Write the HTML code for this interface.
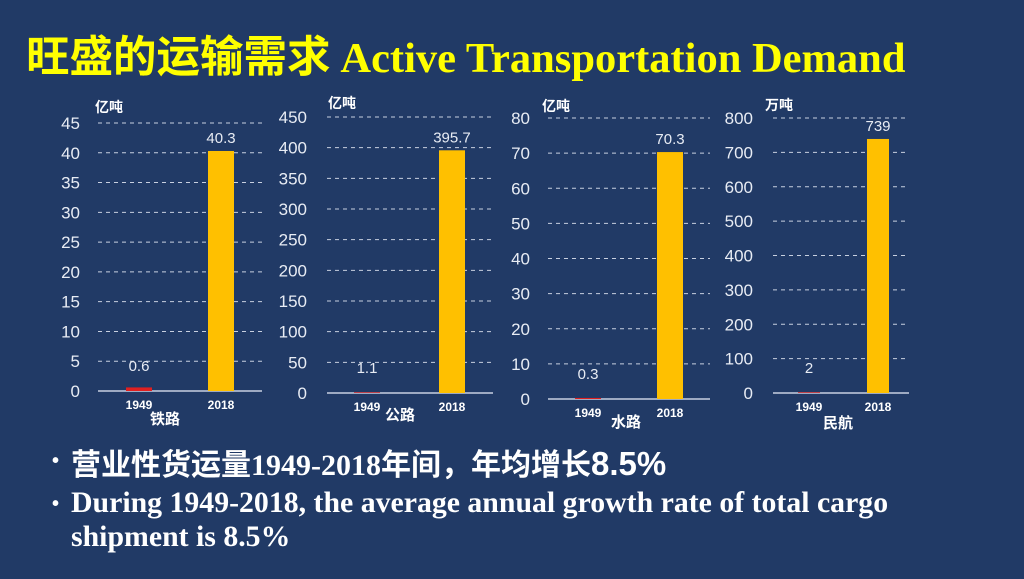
<!DOCTYPE html>
<html><head><meta charset="utf-8"><style>
body{margin:0;width:1024px;height:579px;background:#213a66;overflow:hidden;font-family:"Liberation Sans","Noto Sans CJK SC",sans-serif;position:relative}
#title{position:absolute;left:26px;top:26px;color:#ffff00;font-weight:bold;white-space:nowrap;line-height:56px}
#title .cn{font-family:"Noto Sans CJK SC",sans-serif;font-size:43.5px}
#title .en{font-family:"Liberation Serif",serif;font-size:42.5px}
.b{position:absolute;color:#fff;font-weight:bold;font-family:"Liberation Serif","Noto Sans CJK SC",serif;white-space:nowrap}
.dot{position:absolute;color:#fff;font-size:20px;font-weight:bold}
svg{position:absolute;left:0;top:0}
</style></head><body>
<div id="title"><span class="cn">旺盛的运输需求 </span><span class="en">Active Transportation Demand</span></div>
<div class="dot" style="left:52px;top:450px">•</div>
<div class="b" style="left:71px;top:440px;font-size:30px"><span style="font-family:'Noto Sans CJK SC'">营业性货运量</span>1949-2018<span style="font-family:'Noto Sans CJK SC'">年间，年均增长</span><span style="font-family:'Liberation Sans';font-size:33px">8.5%</span></div>
<div class="dot" style="left:52px;top:493px">•</div>
<div class="b" style="left:71px;top:486px;font-size:29.8px;line-height:34px">During 1949-2018, the average annual growth rate of total cargo<br>shipment is 8.5%</div>
<svg id="c" width="1024" height="579"></svg>
<script>
const categories=["1949","2018"];
const railValues=[0.6,40.3];
const roadValues=[1.1,395.7];
const waterValues=[0.3,70.3];
const airValues=[2,739];
const railTicks=[0,5,10,15,20,25,30,35,40,45];
const roadTicks=[0,50,100,150,200,250,300,350,400,450];
const waterTicks=[0,10,20,30,40,50,60,70,80];
const airTicks=[0,100,200,300,400,500,600,700,800];
const labels=["铁路","公路","水路","民航"];
const units=["亿吨","亿吨","亿吨","万吨"];
const charts=[
 {v:railValues,t:railTicks,lbl:["0.6","40.3"],x0:98,x1:262,y0:391,yt:123,bars:[126,208],bw:26,lx:80,ux:95,uy:112,name:"rail",lab:[165,424],red:true},
 {v:roadValues,t:roadTicks,lbl:["1.1","395.7"],x0:327,x1:493,y0:393,yt:117,bars:[354,439],bw:26,lx:307,ux:328,uy:108,name:"road",lab:[400,420]},
 {v:waterValues,t:waterTicks,lbl:["0.3","70.3"],x0:548,x1:710,y0:399,yt:118,bars:[575,657],bw:26,lx:530,ux:542,uy:111,name:"water",lab:[626,427]},
 {v:airValues,t:airTicks,lbl:["2","739"],x0:773,x1:909,y0:393,yt:118,bars:[798,867],bw:22,lx:753,ux:765,uy:110,name:"air",lab:[838,428]}
];
const svg=document.getElementById('c');const NS="http://www.w3.org/2000/svg";
function mk(tag,a,txt){const e=document.createElementNS(NS,tag);for(const k in a)e.setAttribute(k,a[k]);if(txt!==undefined)e.textContent=txt;svg.appendChild(e);return e;}
charts.forEach((c,ci)=>{
 const max=c.t[c.t.length-1];
 const y=v=>c.y0-(v/max)*(c.y0-c.yt);
 c.t.forEach(tk=>{
  if(tk>0){const g=mk('line',{x1:c.x0,x2:c.x1,y1:y(tk),y2:y(tk),stroke:'#c8d0e0','stroke-width':1,'stroke-dasharray':'4,4'});
  
  }
  const tl=mk('text',{x:c.lx,y:y(tk)+6,'text-anchor':'end',fill:'#e8ecf4','font-size':17},String(tk));
  
  
 });
 const ax=mk('line',{x1:c.x0,x2:c.x1,y1:c.y0,y2:c.y0,stroke:'#c8d0e0','stroke-width':1.5});
 
 
 c.v.forEach((v,i)=>{
  const bx=c.bars[i];const by=y(v);const h=Math.max(c.y0-by,(i==0&&c.red)?2:0);
  const r=mk('rect',{x:bx,y:c.y0-h,width:c.bw,height:h,fill:i==0?'#e02020':'#ffc000'});
  
  
  const vl=mk('text',{x:bx+c.bw/2,y:Math.min(by,c.y0-12)-8,'text-anchor':'middle',fill:'#e8ecf4','font-size':15},c.lbl[i]);
  
  
  const cl=mk('text',{x:bx+c.bw/2,y:c.y0+18,'text-anchor':'middle',fill:'#fff','font-size':12,'font-weight':'bold'},categories[i]);
  
  
 });
 const u=mk('text',{x:c.ux,y:c.uy,fill:'#fff','font-size':14,'font-weight':'bold'},units[ci]);
 
 
 const l=mk('text',{x:c.lab[0],y:c.lab[1],'text-anchor':'middle',fill:'#fff','font-size':15,'font-weight':'bold'},labels[ci]);
 
 
});
</script>
</body></html>
